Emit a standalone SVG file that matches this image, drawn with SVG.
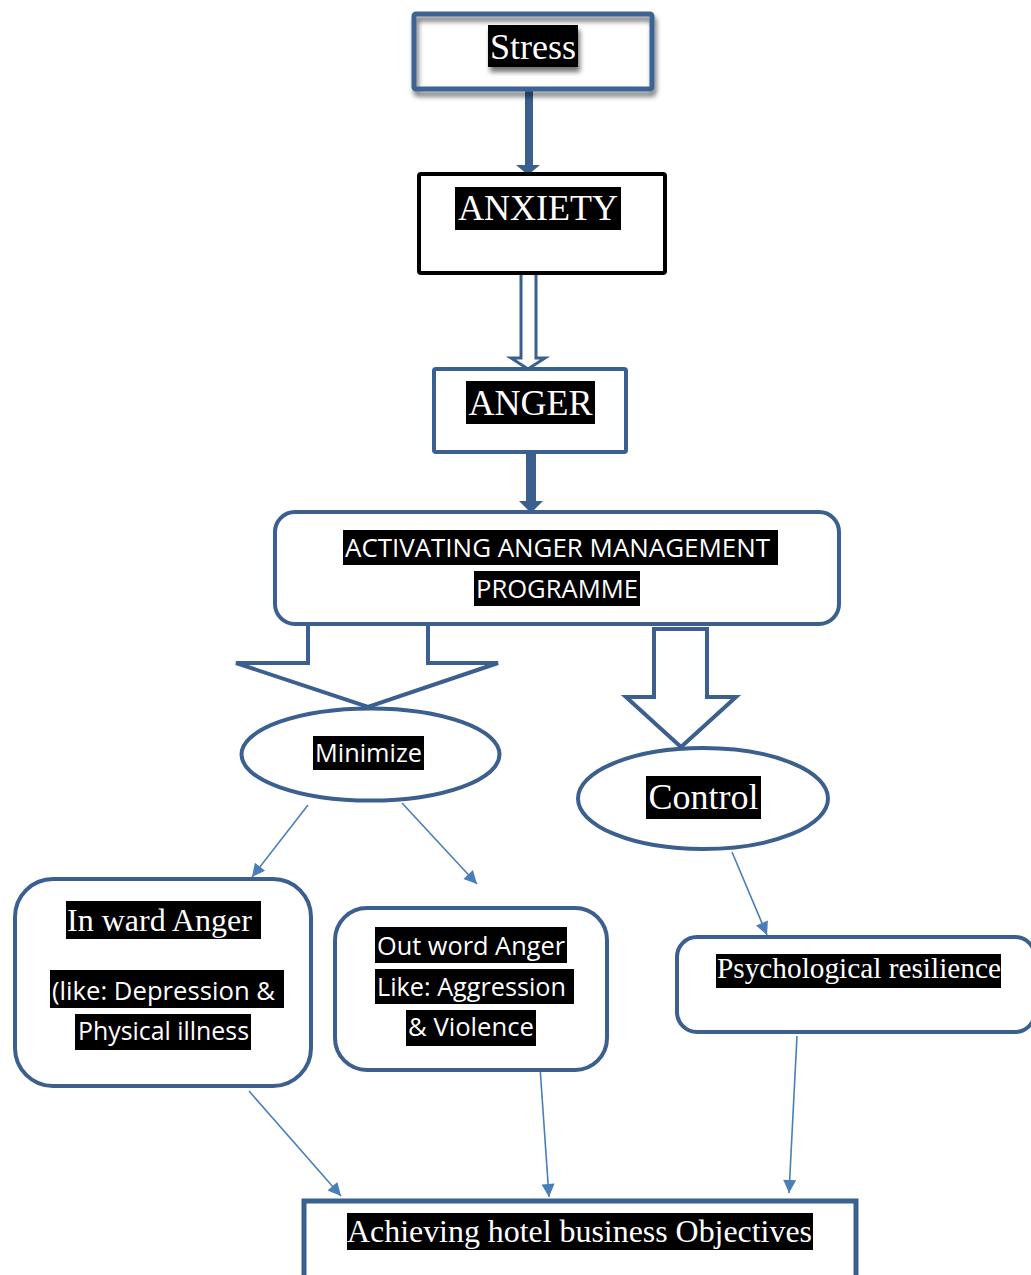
<svg xmlns="http://www.w3.org/2000/svg" width="1031" height="1275" viewBox="0 0 1031 1275">
<style>
.box{fill:#fff;stroke:#3b5f8e;stroke-width:4}
.hl{fill:#000}
.serif{font-family:"Liberation Serif","Times New Roman",serif;fill:#fff}
.sans{font-family:"Open Sans","Liberation Sans",sans-serif;fill:#fff;font-size:26px}
.thin{stroke:#4a7ebb;stroke-width:1.6;fill:none;marker-end:url(#ah)}
.thick{fill:#3b5f8e}
</style>
<defs>
<marker id="ah" viewBox="0 0 10 10" refX="10" refY="5" markerWidth="16" markerHeight="13" markerUnits="userSpaceOnUse" orient="auto">
<path d="M0,0 L10,5 L0,10 z" fill="#4a7ebb"/>
</marker>
<filter id="sh" x="-20%" y="-30%" width="140%" height="180%">
<feDropShadow dx="2" dy="5" stdDeviation="2.5" flood-color="#000" flood-opacity="0.55"/>
</filter>
</defs>
<rect width="1031" height="1275" fill="#fff"/>

<g id="connectors">
<rect class="thick" x="525" y="90" width="8" height="76"/>
<polygon class="thick" points="516,165 540,165 528,175"/>
<polygon points="521,273 521,358 511,358 528,369 545,358 536,358 536,273" fill="#fff" stroke="#3b5f8e" stroke-width="3"/>
<rect class="thick" x="526" y="453" width="10" height="49"/>
<polygon class="thick" points="519,501 543,501 531,513"/>
<polyline points="308,624 308,663 236,663 368,707 498,663 428,663 428,624" fill="#fff" stroke="#3b5f8e" stroke-width="4" stroke-linejoin="miter"/>
<polygon points="654,629 654,697 626,697 681,747 736,697 707,697 707,629" fill="#fff" stroke="#3b5f8e" stroke-width="4"/>
<line class="thin" x1="308" y1="805" x2="252" y2="877"/>
<line class="thin" x1="402" y1="803" x2="477" y2="884"/>
<line class="thin" x1="732" y1="852" x2="767" y2="935"/>
<line class="thin" x1="249" y1="1091" x2="341" y2="1196"/>
<line class="thin" x1="540" y1="1067" x2="549" y2="1197"/>
<line class="thin" x1="797" y1="1036" x2="789" y2="1193"/>
</g>

<g id="stress">
<rect x="414" y="14" width="238" height="75" rx="2" fill="none" stroke="#3e6494" stroke-width="5" filter="url(#sh)"/>
<rect class="hl" x="488" y="25" width="90" height="42" filter="url(#sh)"/>
<text class="serif" x="533" y="59" font-size="36" text-anchor="middle">Stress</text>
</g>

<g id="anxiety">
<rect x="419" y="174" width="246" height="99" rx="2" fill="#fff" stroke="#000" stroke-width="4"/>
<rect class="hl" x="455" y="187" width="166" height="43"/>
<text class="serif" x="538" y="220" font-size="36" text-anchor="middle">ANXIETY</text>
</g>

<g id="anger">
<rect class="box" x="434" y="369" width="192" height="83" rx="2"/>
<rect class="hl" x="466" y="381" width="129" height="43"/>
<text class="serif" x="530.5" y="415" font-size="36" text-anchor="middle">ANGER</text>
</g>

<g id="activating">
<rect class="box" x="275" y="512" width="564" height="112" rx="20"/>
<rect class="hl" x="343" y="530" width="435" height="35"/>
<text class="sans" x="345" y="557" textLength="425" lengthAdjust="spacingAndGlyphs">ACTIVATING ANGER MANAGEMENT</text>
<rect class="hl" x="474" y="571" width="166" height="35"/>
<text class="sans" x="476" y="598" textLength="162" lengthAdjust="spacingAndGlyphs">PROGRAMME</text>
</g>

<g id="minimize">
<ellipse cx="370.5" cy="754.5" rx="129" ry="46" fill="#fff" stroke="#3b5f8e" stroke-width="4"/>
<rect class="hl" x="313" y="736" width="111" height="34"/>
<text class="sans" x="315" y="762" textLength="107" lengthAdjust="spacingAndGlyphs">Minimize</text>
</g>

<g id="control">
<ellipse cx="703" cy="798.5" rx="125" ry="50.5" fill="#fff" stroke="#3b5f8e" stroke-width="4"/>
<rect class="hl" x="646" y="776" width="115" height="43"/>
<text class="serif" x="703.5" y="809" font-size="36" text-anchor="middle">Control</text>
</g>

<g id="inward">
<rect class="box" x="15" y="879" width="296" height="207" rx="38"/>
<rect class="hl" x="66" y="901" width="195" height="38"/>
<text class="serif" x="67" y="931" font-size="32">In ward Anger</text>
<rect class="hl" x="50" y="970" width="234" height="38"/>
<text class="sans" x="52" y="1000" textLength="223" lengthAdjust="spacingAndGlyphs">(like: Depression &amp;</text>
<rect class="hl" x="75" y="1014" width="176" height="36"/>
<text class="sans" x="78" y="1040" textLength="171" lengthAdjust="spacingAndGlyphs">Physical illness</text>
</g>

<g id="outward">
<rect class="box" x="335" y="908" width="272" height="162" rx="32"/>
<rect class="hl" x="375" y="927" width="192" height="36"/>
<text class="sans" x="377" y="955" textLength="188" lengthAdjust="spacingAndGlyphs">Out word Anger</text>
<rect class="hl" x="375" y="969" width="199" height="35"/>
<text class="sans" x="377" y="996" textLength="189" lengthAdjust="spacingAndGlyphs">Like: Aggression</text>
<rect class="hl" x="406" y="1010" width="130" height="36"/>
<text class="sans" x="408" y="1036" textLength="126" lengthAdjust="spacingAndGlyphs">&amp; Violence</text>
</g>

<g id="resilience">
<rect class="box" x="677" y="937" width="358" height="95" rx="20"/>
<rect class="hl" x="716" y="954" width="285" height="34"/>
<text class="serif" x="717" y="978" font-size="29.3">Psychological resilience</text>
</g>

<g id="objectives">
<rect x="304" y="1201" width="552" height="100" fill="#fff" stroke="#3b5f8e" stroke-width="5"/>
<rect class="hl" x="347" y="1213" width="466" height="37"/>
<text class="serif" x="347" y="1242" font-size="31.9">Achieving hotel business Objectives</text>
</g>
</svg>
